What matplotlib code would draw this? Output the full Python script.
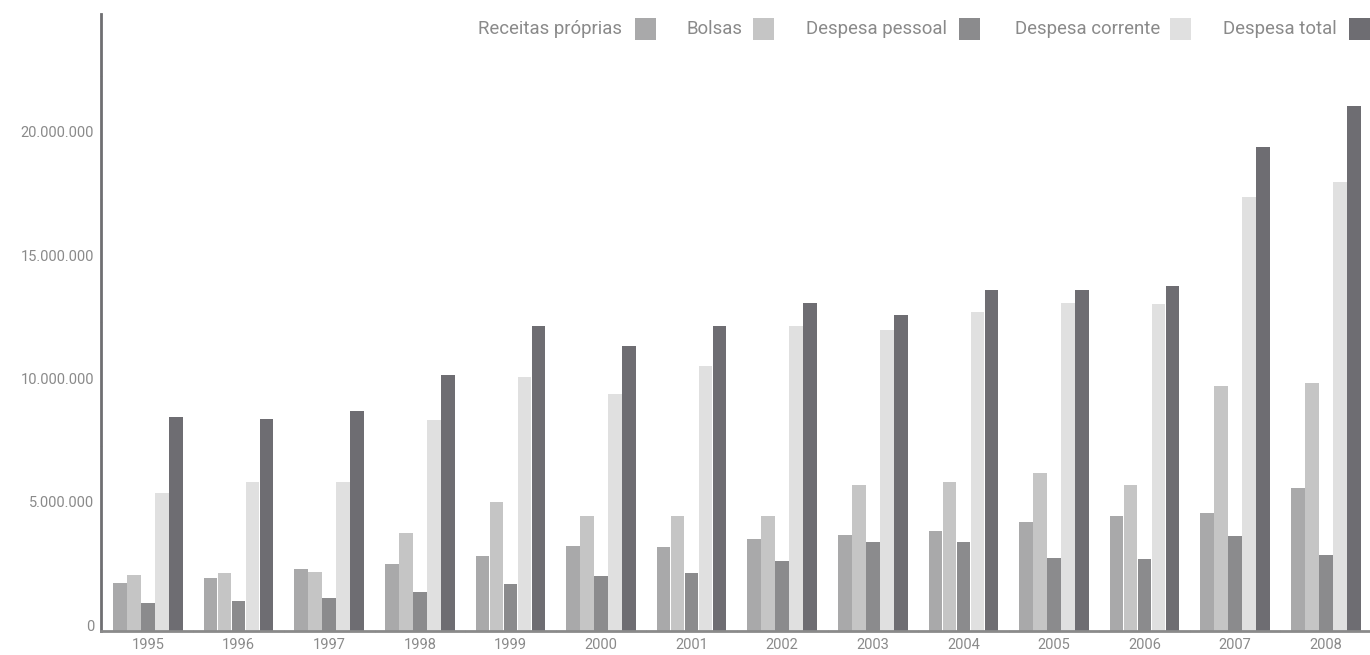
import matplotlib
matplotlib.use("Agg")
import matplotlib.pyplot as plt
import numpy as np
from matplotlib.patches import Rectangle
from matplotlib.ticker import FuncFormatter, FixedLocator, MultipleLocator

plt.rcParams['font.family'] = ['Roboto', 'DejaVu Sans']

anos = ["1995", "1996", "1997", "1998", "1999", "2000", "2001",
        "2002", "2003", "2004", "2005", "2006", "2007", "2008"]

receitas_proprias = [1.93, 2.13, 2.50, 2.70, 3.02, 3.43, 3.39,
                     3.71, 3.87, 4.06, 4.40, 4.64, 4.76, 5.80]
bolsas = [2.25, 2.34, 2.38, 3.96, 5.21, 4.64, 4.64,
          4.64, 5.90, 6.02, 6.38, 5.90, 9.94, 10.03]
despesa_pessoal = [1.12, 1.20, 1.32, 1.57, 1.89, 2.21, 2.33,
                   2.82, 3.59, 3.59, 2.94, 2.90, 3.83, 3.06]
despesa_corrente = [5.57, 6.02, 6.02, 8.53, 10.27, 9.58, 10.72,
                    12.34, 12.21, 12.90, 13.27, 13.23, 17.60, 18.20]
despesa_total = [8.66, 8.58, 8.90, 10.35, 12.34, 11.53, 12.34,
                 13.27, 12.78, 13.83, 13.83, 13.96, 19.60, 21.28]

series_nomes = ["Receitas próprias", "Bolsas", "Despesa pessoal",
                "Despesa corrente", "Despesa total"]
series_valores = [receitas_proprias, bolsas, despesa_pessoal,
                  despesa_corrente, despesa_total]
cores = ["#a9a9aa", "#c5c5c5", "#8b8b8d", "#e0e0e0", "#6e6d72"]

y_rotulos = [0, 5e6, 10e6, 15e6, 20e6]

W, H = 1370, 655
fig = plt.figure(figsize=(W / 100, H / 100), dpi=100)
ax = fig.add_axes([101 / W, 24.3 / H, 1 - 101 / W, (641 - 24.3) / H])

x = np.arange(len(anos))
passo = 14 / 90.6
for k, (vals, cor) in enumerate(zip(series_valores, cores)):
    ax.bar(x + (k - 2) * passo, np.array(vals) * 1e6, width=passo * 0.96,
           color=cor, linewidth=0, zorder=2)

ax.set_xlim(-0.519, 13.488)
ax.set_ylim(0, 25e6)

for s in ("top", "right"):
    ax.spines[s].set_visible(False)
ax.spines["left"].set_color("#6f6f72")
ax.spines["left"].set_linewidth(2)
ax.spines["bottom"].set_color("#8a8a8a")
ax.spines["bottom"].set_linewidth(2)

txt = "#8a8a8a"
peso = "normal"
ax.yaxis.set_major_locator(FixedLocator(y_rotulos))
ax.yaxis.set_minor_locator(MultipleLocator(2.5e6))
ax.yaxis.set_major_formatter(FuncFormatter(lambda v, p: f"{int(v):,}".replace(",", ".")))
ax.tick_params(axis="y", which="major", length=0, pad=5, labelsize=10.5,
               labelcolor=txt)
ax.tick_params(axis="y", which="minor", length=2, width=1, color="#d0d0d0",
               direction="inout")
for lab in ax.get_yticklabels():
    lab.set_verticalalignment("baseline")
    lab.set_fontweight(peso)

ax.set_xticks(x)
ax.set_xticklabels(anos, fontweight=peso)
ax.set_xticks(x[:-1] + 0.5, minor=True)
ax.tick_params(axis="x", which="major", length=0, pad=5, labelsize=10.5,
               labelcolor=txt)
ax.tick_params(axis="x", which="minor", length=2, width=1, color="#d0d0d0",
               direction="inout")

# legend: label on the left, colour square on the right
texto_dir = [622, 742, 947, 1160, 1337]
quadrado_esq = [635, 753, 959, 1170, 1349]
yc = 29
lado = 21
for nome, cor, tx, qx in zip(series_nomes, cores, texto_dir, quadrado_esq):
    fig.text(tx / W, 1 - yc / H, nome, ha="right", va="center",
             fontsize=13.4, color=txt, fontweight=peso)
    fig.patches.append(Rectangle((qx / W, 1 - (yc + lado / 2) / H),
                                 lado / W, lado / H, transform=fig.transFigure,
                                 facecolor=cor, edgecolor="none"))

fig.savefig("out.png", dpi=100)
